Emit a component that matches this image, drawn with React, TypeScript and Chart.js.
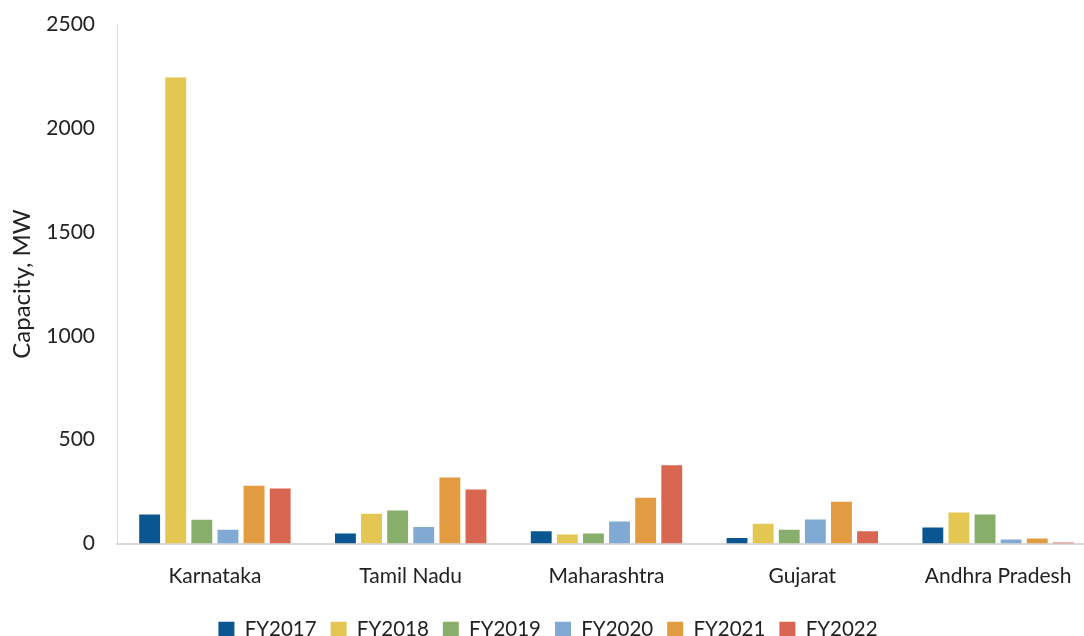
import React, { useEffect, useRef } from "react";
import { Chart, registerables } from "chart.js";

Chart.register(...registerables);

const states = ["Karnataka", "Tamil Nadu", "Maharashtra", "Gujarat", "Andhra Pradesh"];
const fy2017 = [140, 48, 59, 27, 77];
const fy2018 = [2245, 143, 43, 95, 149];
const fy2019 = [114, 159, 48, 66, 140];
const fy2020 = [66, 79, 106, 116, 19];
const fy2021 = [278, 318, 220, 201, 24];
const fy2022 = [265, 260, 377, 59, 5];
const seriesNames = ["FY2017", "FY2018", "FY2019", "FY2020", "FY2021", "FY2022"];
const seriesColors = ["#0a5690", "#e3c752", "#88ae6b", "#80aad4", "#e39b41", "#d96651"];
const yTicks = [0, 500, 1000, 1500, 2000, 2500];

export default function App() {
  const ref = useRef<HTMLCanvasElement>(null);
  useEffect(() => {
    document.body.style.margin = "0";
    document.body.style.overflow = "hidden";
    const values = [fy2017, fy2018, fy2019, fy2020, fy2021, fy2022];
    const font = "Lato, 'Open Sans', sans-serif";
    const chart = new Chart(ref.current!, {
      type: "bar",
      data: {
        labels: states,
        datasets: values.map((v, i) => ({
          label: seriesNames[i],
          data: v,
          backgroundColor: seriesColors[i],
          borderWidth: 0,
          categoryPercentage: 0.8,
          barPercentage: 0.8,
        })),
      },
      options: {
        animation: false,
        responsive: false,
        maintainAspectRatio: false,
        layout: { padding: { top: 0, left: 0, right: 0, bottom: 0 } },
        plugins: {
          legend: {
            position: "bottom",
            labels: {
              font: { family: font, size: 20.5 },
              color: "#222",
              boxWidth: 16,
              boxHeight: 16,
              padding: 14,
            },
          },
          tooltip: { enabled: false },
        },
        scales: {
          x: {
            afterFit: (s: any) => {
              s.height = 62;
            },
            grid: { display: false, drawTicks: false },
            border: { display: true, color: "#d9d9d9", width: 2 },
            ticks: {
              font: { family: font, size: 21 },
              color: "#222",
              padding: 20,
            },
          },
          y: {
            min: 0,
            max: 2500,
            afterBuildTicks: (s: any) => {
              s.ticks = yTicks.map((v) => ({ value: v }));
            },
            afterFit: (s: any) => {
              s.width = 117;
            },
            grid: { display: false, drawTicks: false },
            border: { display: true, color: "#d9d9d9", width: 1 },
            ticks: {
              font: { family: font, size: 21 },
              color: "#222",
              padding: 22,
              callback: (v: any) => String(v),
            },
            title: {
              display: true,
              text: "Capacity, MW",
              font: { family: font, size: 24 },
              color: "#222",
              padding: { top: 8, bottom: 0 },
            },
          },
        },
      },
    });
    return () => chart.destroy();
  }, []);
  return (
    <div style={{ width: 1096, height: 636, overflow: "hidden", position: "relative" }}>
      <canvas
        ref={ref}
        width={1096}
        height={660}
        style={{ display: "block", position: "absolute", left: 0, top: -10 }}
      />
    </div>
  );
}
